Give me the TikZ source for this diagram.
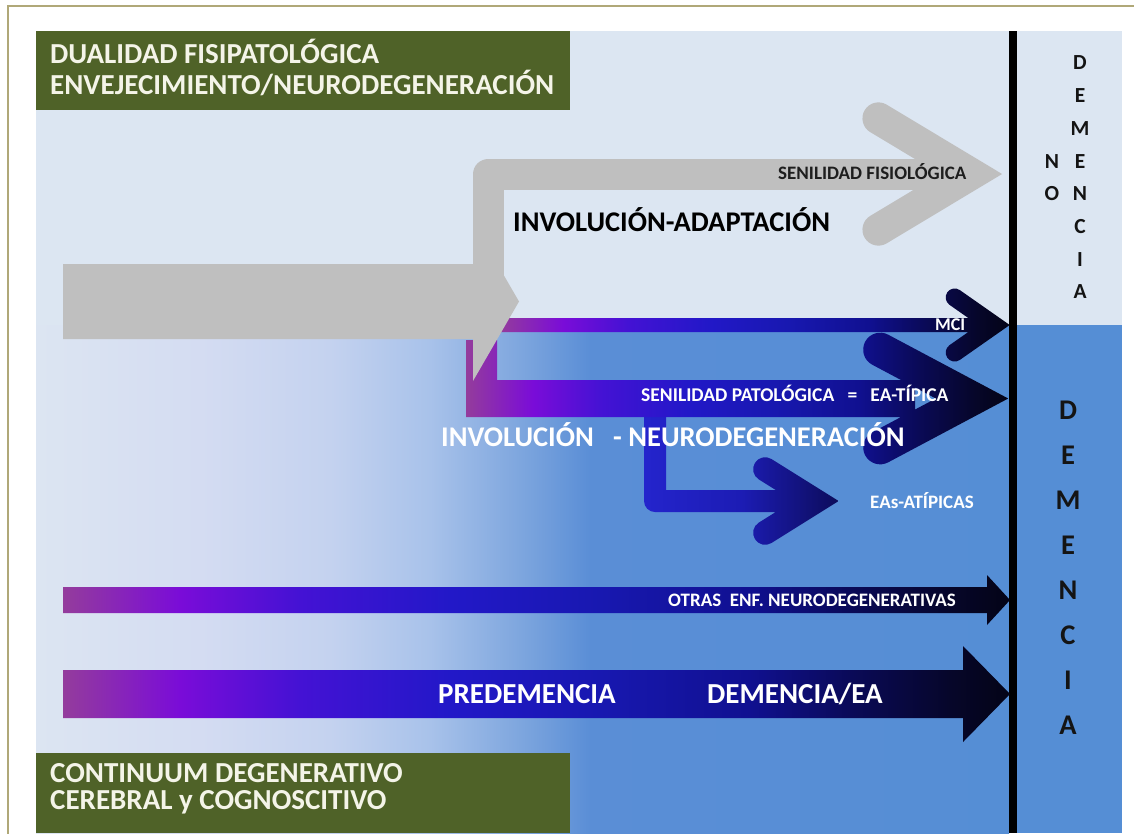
\documentclass[tikz,border=0pt]{standalone}
\usepackage{fontspec}
\setmainfont{Carlito}
\usetikzlibrary{calc}

\definecolor{lightbg}{RGB}{220,230,242}
\definecolor{medblue}{RGB}{85,142,213}
\definecolor{boxgreen}{RGB}{79,98,40}
\definecolor{cream}{RGB}{244,244,232}
\definecolor{framec}{RGB}{176,168,120}
\definecolor{grayarrow}{RGB}{191,191,191}
\definecolor{letterc}{RGB}{20,20,20}
\definecolor{darktext}{RGB}{30,30,30}
% background gradient
\definecolor{bg0}{RGB}{220,229,242}
\definecolor{bg1}{RGB}{212,220,242}
\definecolor{bg2}{RGB}{196,210,239}
\definecolor{bg3}{RGB}{168,194,234}
\definecolor{bg4}{RGB}{126,166,222}
\definecolor{bg5}{RGB}{90,142,214}
% bar gradient
\definecolor{bc0}{RGB}{148,60,156}
\definecolor{bc1}{RGB}{122,12,216}
\definecolor{bc2}{RGB}{68,18,212}
\definecolor{bc3}{RGB}{34,24,200}
\definecolor{bc4}{RGB}{24,24,176}
\definecolor{bc5}{RGB}{16,16,144}
\definecolor{bc6}{RGB}{10,10,88}
\definecolor{bc7}{RGB}{6,6,42}
\definecolor{bc8}{RGB}{4,4,22}
% EAs gradient
\definecolor{ea0}{RGB}{36,36,204}
\definecolor{ea1}{RGB}{28,28,180}
\definecolor{ea2}{RGB}{12,12,90}

\pgfdeclarehorizontalshading{bgshade}{100bp}{color(0bp)=(bg0); color(25bp)=(bg0); color(33.43bp)=(bg1); color(40.11bp)=(bg2); color(45.25bp)=(bg3); color(49.87bp)=(bg4); color(53.47bp)=(bg5); color(75bp)=(medblue); color(100bp)=(medblue)}
\pgfdeclarehorizontalshading{barshade}{100bp}{color(0bp)=(bc0); color(25bp)=(bc0); color(31.18bp)=(bc1); color(37.51bp)=(bc2); color(45.43bp)=(bc3); color(53.35bp)=(bc4); color(61.27bp)=(bc5); color(66.55bp)=(bc6); color(71.83bp)=(bc7); color(75bp)=(bc8); color(100bp)=(bc8)}
\pgfdeclarehorizontalshading{eashade}{100bp}{color(0bp)=(ea0); color(25bp)=(ea0); color(50bp)=(ea1); color(75bp)=(ea2); color(100bp)=(ea2)}

% chevron arrow head: #1 vertex, #2 half angle, #3 arm length, #4 half thickness
\newcommand{\chevpath}[4]{($(#1)+({#4/sin(#2)},0)$) -- ($(#1)+(180+#2:#3)+(#2-90:#4)$) arc[start angle=#2-90, end angle=#2-270, radius=#4] -- ($(#1)+({-#4/sin(#2)},0)$) -- ($(#1)+(180-#2:#3)+(270-#2:#4)$) arc[start angle=270-#2, end angle=90-#2, radius=#4] -- cycle}

\begin{document}
\begin{tikzpicture}[x=1pt,y=-1pt,
  big/.style={inner sep=0pt, anchor=base west, font=\bfseries\fontsize{29}{34}\selectfont},
  mid/.style={inner sep=0pt, anchor=base west, font=\bfseries\fontsize{28.5}{34}\selectfont},
  small/.style={inner sep=0pt, anchor=base west, font=\bfseries\fontsize{19.5}{23}\selectfont},
  vlet/.style={inner sep=0pt, anchor=center, text=letterc, font=\bfseries\fontsize{21.5}{25}\selectfont},
  vletbig/.style={vlet, font=\bfseries\fontsize{28.5}{32}\selectfont},
  greenbox/.style={fill=boxgreen, draw=none}]
\useasboundingbox (0,0) rectangle (1134,833);
\clip (0,0) rectangle (1134,833);
\fill[white] (0,0) rectangle (1134,833);
% frame
\draw[framec, line width=1.5pt] (8,850) -- (8,6) -- (1150,6);
% panels
\fill[lightbg] (36,31) rectangle (1122,833);
\shade[shading=bgshade] (36,325) rectangle (1009,833);
\fill[medblue] (1017,325) rectangle (1122,833);
\fill[black] (1009,31) rectangle (1017,833);

% green boxes
\fill[greenbox] (36,31) rectangle (570,110);
\fill[greenbox] (36,753) rectangle (570,833);
\node[big, text=cream] (t1) at (50,63) {DUALIDAD FISIPATOLÓGICA};
\node[big, text=cream] (t2) at (50,94) {ENVEJECIMIENTO/NEURODEGENERACIÓN};
\node[big, text=cream] (b1) at (50,782) {CONTINUUM DEGENERATIVO};
\node[big, text=cream] (b2) at (50,809) {CEREBRAL y COGNOSCITIVO};

% coordinates of arrow heads
\coordinate (mciV) at (994,325);
\coordinate (spaV) at (972,398.5);
\coordinate (eaV) at (816,501);
\coordinate (sfV) at (971,174);

% lower long arrows
\shade[shading=barshade] (63,587) -- (63,613) -- (987,613) -- (987,625) -- (1010,600) -- (987,575) -- (987,587) -- cycle;
\shade[shading=barshade] (63,670) -- (63,718) -- (963,718) -- (963,742) -- (1010,694) -- (963,646) -- (963,670) -- cycle;

% EAs atipicas branch
\shade[shading=eashade] (644,412) {[rounded corners=11pt] -- (644,512) -- (805,512)} -- (805,490) -- (666,490) -- (666,412) -- cycle \chevpath{eaV}{32}{60}{12};
% senilidad patologica
\shade[shading=barshade] (466,340) -- (466,417) -- (915,417) -- (915,380) -- (497,380) -- (497,340) -- cycle \chevpath{spaV}{28}{104}{17};
% MCI
\shade[shading=barshade] (500,318) -- (500,332) -- (990,332) -- (990,318) -- cycle \chevpath{mciV}{35}{48}{9};

% gray bent arrow (senilidad fisiologica)
\draw[grayarrow, line width=31pt, line join=round] (488.5,300) -- (488.5,174) -- (972,174);
\fill[grayarrow] \chevpath{sfV}{31}{108}{16};
% gray block arrow
\fill[grayarrow] (63,264) -- (473,264) -- (473,222) -- (519,301.5) -- (473,381) -- (473,339) -- (63,339) -- cycle;

% texts
\node[small, text=darktext, font=\bfseries\fontsize{19}{23}\selectfont] (sf) at (778,179) {SENILIDAD FISIOLÓGICA};
\node[mid, text=black] (ia) at (513,231.5) {INVOLUCIÓN-ADAPTACIÓN};
\node[small, text=white, font=\bfseries\fontsize{18}{22}\selectfont] (mci) at (935,330) {MCI};
\node[small, text=white] (spa) at (641,401) {SENILIDAD PATOLÓGICA\ \ \ =\ \ \ EA-TÍPICA};
\node[mid, text=white] (ine) at (441,446) {INVOLUCIÓN\ \ \ - NEURODEGENERACIÓN};
\node[small, text=white, font=\bfseries\fontsize{19}{23}\selectfont] (eaa) at (870,508) {EAs-ATÍPICAS};
\node[small, text=white, font=\bfseries\fontsize{19}{23}\selectfont] (otr) at (668,606) {OTRAS\ \ ENF. NEURODEGENERATIVAS};
\node[big, text=white] (pre) at (438,703) {PREDEMENCIA};
\node[big, text=white] (dea) at (707,703) {DEMENCIA/EA};

% vertical labels
\node[vlet] (noN) at (1052,161.5) {N};
\node[vlet] (noO) at (1052,194) {O};
\foreach \l [count=\i] in {D,E,M,E,N,C,I,A}
  \node[vlet] (nd\i) at (1080,{63+32.7*(\i-1)}) {\l};
\foreach \l [count=\i] in {D,E,M,E,N,C,I,A}
  \node[vletbig] (dm\i) at (1068,{410+45*(\i-1)}) {\l};
\end{tikzpicture}
\end{document}
